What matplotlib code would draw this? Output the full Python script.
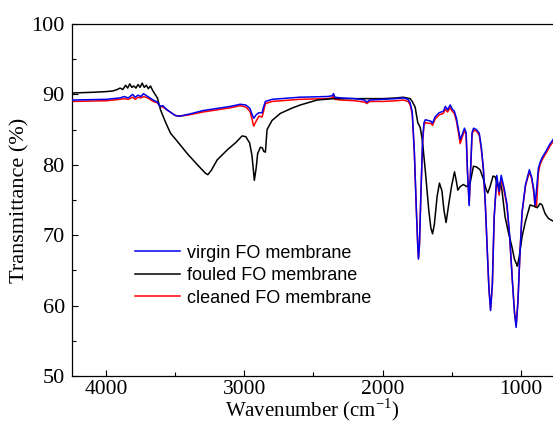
import matplotlib
matplotlib.use("Agg")
import matplotlib.pyplot as plt
from matplotlib.ticker import MultipleLocator

# wavenumber (cm-1) / transmittance (%)
wn_virgin = [4250, 4000, 3900, 3870, 3840, 3810, 3790, 3770, 3750, 3730, 3700,
             3660, 3630, 3610, 3590, 3560, 3500, 3470, 3400, 3300, 3200, 3100,
             3030, 2990, 2960, 2945, 2933, 2915, 2895, 2872, 2860, 2848, 2800,
             2600, 2400, 2365, 2355, 2345, 2300, 2200, 2130, 2113, 2095, 2000,
             1900, 1850, 1815, 1800, 1785, 1770, 1755, 1745, 1740, 1733, 1722,
             1710, 1700, 1690, 1670, 1650, 1638, 1620, 1590, 1560, 1545, 1530,
             1510, 1495, 1480, 1465, 1450, 1438, 1425, 1407, 1395, 1385, 1373,
             1362, 1352, 1341, 1320, 1300, 1285, 1270, 1255, 1240, 1230, 1218,
             1205, 1192, 1173, 1156, 1141, 1120, 1100, 1080, 1060, 1045, 1033,
             1020, 1005, 990, 965, 937, 920, 905, 896, 885, 872, 860, 845, 830,
             812, 790, 765]
t_virgin = [89.2, 89.3, 89.5, 89.7, 89.5, 90.0, 89.6, 89.9, 89.7, 90.1, 89.7,
            89.2, 88.9, 88.3, 88.4, 87.8, 87.0, 86.9, 87.2, 87.7, 88.0, 88.3,
            88.6, 88.5, 88.0, 87.2, 86.6, 87.1, 87.4, 87.4, 88.3, 89.0, 89.3,
            89.6, 89.7, 89.8, 90.1, 89.6, 89.5, 89.4, 89.2, 88.9, 89.2, 89.3,
            89.4, 89.5, 89.3, 88.8, 87.5, 82.0, 73.5, 68.5, 66.6, 68.5, 76.0,
            83.5, 86.0, 86.4, 86.3, 86.2, 85.9, 86.8, 87.4, 87.6, 88.3, 87.8,
            88.5, 87.9, 87.6, 86.6, 85.0, 83.6, 84.2, 85.2, 84.6, 79.0, 74.2,
            79.5, 84.6, 85.2, 85.0, 84.5, 82.5, 79.5, 74.0, 67.0, 62.5, 59.3,
            63.0, 72.5, 78.5, 76.2, 78.5, 76.7, 74.5, 70.0, 63.5, 59.0, 56.9,
            60.5, 67.5, 73.3, 77.2, 79.3, 78.2, 76.5, 74.3, 76.5, 79.5, 80.3,
            81.0, 81.5, 82.1, 82.9, 83.6]

wn_fouled = [4250, 4100, 4000, 3950, 3920, 3900, 3880, 3860, 3845, 3830, 3815,
             3800, 3785, 3770, 3755, 3740, 3725, 3710, 3695, 3680, 3665, 3656,
             3630, 3607, 3570, 3535, 3480, 3414, 3340, 3282, 3265, 3240, 3197,
             3125, 3060, 3017, 2990, 2962, 2945, 2928, 2915, 2904, 2884, 2870,
             2860, 2848, 2836, 2800, 2740, 2650, 2595, 2474, 2354, 2200, 2000,
             1900, 1850, 1800, 1785, 1764, 1745, 1727, 1712, 1691, 1665, 1650,
             1638, 1625, 1605, 1588, 1570, 1555, 1540, 1520, 1500, 1479, 1465,
             1455, 1438, 1415, 1390, 1365, 1342, 1320, 1294, 1270, 1250, 1238,
             1220, 1200, 1185, 1170, 1160, 1148, 1135, 1113, 1090, 1065, 1045,
             1030, 1024, 1010, 990, 965, 932, 900, 880, 860, 845, 824, 800, 775,
             765]
t_fouled = [90.2, 90.3, 90.4, 90.5, 90.7, 90.9, 90.7, 91.3, 90.9, 91.5, 91.0,
            91.2, 90.9, 91.4, 91.0, 91.6, 91.0, 91.3, 90.8, 91.2, 90.6, 90.3,
            89.5, 87.8, 86.0, 84.5, 83.2, 81.6, 80.0, 78.8, 78.6, 79.2, 80.7,
            82.1, 83.2, 84.1, 84.0, 83.1, 81.3, 77.8, 79.5, 81.6, 82.5, 82.4,
            81.9, 81.8, 85.0, 86.3, 87.3, 88.1, 88.5, 89.2, 89.4, 89.4, 89.4,
            89.5, 89.6, 89.4, 89.0, 88.2, 86.0, 85.3, 83.5, 79.3, 73.5, 71.0,
            70.2, 71.5, 75.5, 77.4, 76.3, 73.5, 71.8, 74.5, 77.0, 79.0, 77.6,
            76.4, 76.9, 77.2, 76.9, 77.5, 79.8, 79.7, 79.3, 78.0, 76.5, 76.0,
            77.0, 78.4, 78.3, 77.2, 76.9, 77.5, 76.3, 72.6, 70.5, 68.5, 66.6,
            65.9, 65.6, 67.0, 69.8, 72.0, 74.3, 74.1, 73.9, 74.5, 74.3, 73.1,
            72.4, 72.1, 72.0]

wn_cleaned = wn_virgin
t_cleaned = [89.0, 89.1, 89.3, 89.4, 89.3, 89.6, 89.3, 89.6, 89.5, 89.7, 89.5,
             89.0, 88.8, 88.3, 88.2, 87.8, 87.0, 86.9, 87.1, 87.5, 87.8, 88.1,
             88.4, 88.2, 87.6, 86.5, 85.5, 86.2, 86.9, 86.8, 87.7, 88.7, 89.0,
             89.3, 89.4, 89.5, 89.8, 89.3, 89.2, 89.1, 88.9, 88.7, 89.0, 89.0,
             89.1, 89.2, 89.0, 88.5, 87.2, 81.8, 73.5, 68.5, 66.7, 68.6, 76.0,
             83.2, 85.6, 86.0, 85.9, 85.9, 85.6, 86.5, 87.1, 87.3, 87.9, 87.5,
             88.1, 87.6, 87.3, 86.2, 84.5, 83.0, 83.8, 84.9, 84.3, 79.0, 74.5,
             79.5, 84.3, 84.9, 84.8, 84.2, 82.2, 79.3, 74.0, 67.0, 62.5, 59.5,
             63.0, 72.5, 78.0, 75.7, 78.0, 76.3, 74.2, 69.8, 63.5, 59.2, 57.2,
             60.5, 67.5, 73.1, 77.0, 79.0, 78.0, 76.0, 74.0, 74.2, 78.8, 80.0,
             80.7, 81.2, 81.8, 82.6, 83.3]

serif = ["Liberation Serif", "DejaVu Serif"]
sans = ["Liberation Sans", "DejaVu Sans"]

fig = plt.figure(figsize=(5.53, 4.25), dpi=100)
ax = fig.add_axes([0.1297, 0.1153, 0.8703, 0.8282])

ax.plot(wn_cleaned, t_cleaned, color="#ff0000", lw=1.1, zorder=2,
        label="cleaned FO membrane")
ax.plot(wn_fouled, t_fouled, color="black", lw=1.1, zorder=3,
        label="fouled FO membrane")
ax.plot(wn_virgin, t_virgin, color="#0000ee", lw=1.1, zorder=4,
        label="virgin FO membrane")

ax.set_xlim(4250, 766)
ax.set_ylim(50, 100)
ax.xaxis.set_major_locator(MultipleLocator(1000))
ax.xaxis.set_minor_locator(MultipleLocator(500))
ax.yaxis.set_major_locator(MultipleLocator(10))
ax.yaxis.set_minor_locator(MultipleLocator(5))
ax.tick_params(which="major", direction="in", length=4.3, width=0.8, pad=5,
               labelsize=16)
ax.tick_params(axis="x", which="major", pad=3, labelsize=15.5)
ax.tick_params(which="minor", direction="in", length=2.8, width=0.8)
for lab in ax.get_xticklabels() + ax.get_yticklabels():
    lab.set_family(serif)
ax.spines["right"].set_visible(False)
for s in ["left", "bottom", "top"]:
    ax.spines[s].set_linewidth(0.9)

ax.set_xlabel("Wavenumber (cm$^{\\mathregular{-1}}$)", family=serif,
              fontsize=15, labelpad=-2)
ax.set_ylabel("Transmittance (%)", family=serif, fontsize=16)
ax.yaxis.set_label_coords(-0.088, 0.5)

handles, labels = ax.get_legend_handles_labels()
order = [2, 1, 0]
ax.legend([handles[i] for i in order], [labels[i] for i in order],
          loc="center left", bbox_to_anchor=(0.132, 0.285), frameon=False,
          prop={"family": sans, "size": 13}, handlelength=2.5,
          handletextpad=0.35, labelspacing=0.3, borderpad=0, borderaxespad=0)

fig.savefig("out.png", dpi=100)
